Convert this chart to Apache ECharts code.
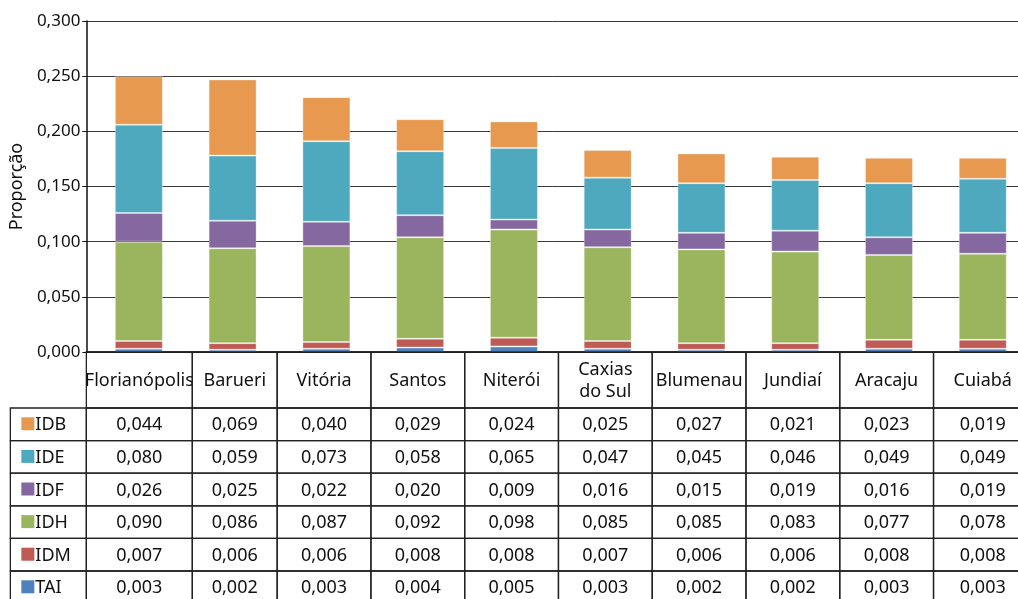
<!DOCTYPE html>
<html>
<head>
<meta charset="utf-8">
<script src="https://cdn.jsdelivr.net/npm/echarts@6/dist/echarts.min.js"></script>
<style>
html,body{margin:0;padding:0;background:#fff;}
#chart{width:1018px;height:599px;}
</style>
</head>
<body>
<div id="chart"></div>
<script>
const categories = ['Florianópolis','Barueri','Vitória','Santos','Niterói','Caxias\ndo Sul','Blumenau','Jundiaí','Aracaju','Cuiabá'];
const IDB = [0.044,0.069,0.040,0.029,0.024,0.025,0.027,0.021,0.023,0.019];
const IDE = [0.080,0.059,0.073,0.058,0.065,0.047,0.045,0.046,0.049,0.049];
const IDF = [0.026,0.025,0.022,0.020,0.009,0.016,0.015,0.019,0.016,0.019];
const IDH = [0.090,0.086,0.087,0.092,0.098,0.085,0.085,0.083,0.077,0.078];
const IDM = [0.007,0.006,0.006,0.008,0.008,0.007,0.006,0.006,0.008,0.008];
const TAI = [0.003,0.002,0.003,0.004,0.005,0.003,0.002,0.002,0.003,0.003];
const yAxisName = 'Proporção';

// table rows, top to bottom
const tableRows = [
  {name:'IDB', values:IDB, color:'#E6994F'},
  {name:'IDE', values:IDE, color:'#4EA8BE'},
  {name:'IDF', values:IDF, color:'#8568A0'},
  {name:'IDH', values:IDH, color:'#9BB55E'},
  {name:'IDM', values:IDM, color:'#BE5B55'},
  {name:'TAI', values:TAI, color:'#4F81BD'}
];
// stacking order, bottom to top
const stackOrder = tableRows.slice().reverse();

const FONT = '"Noto Sans", sans-serif';
const fmt = v => v.toFixed(3).replace('.', ',');

const chart = echarts.init(document.getElementById('chart'), null, {renderer:'canvas'});

// value first so that the stacked dimension is the y value; category position in dim 1
const barSeries = stackOrder.map(s => ({
  name: s.name,
  type: 'bar',
  stack: 'total',
  barWidth: 48,
  encode: {x: 1, y: 0},
  data: s.values.map((v, i) => [v, i]),
  itemStyle: {color: s.color, borderColor: 'rgba(255,255,255,0.35)', borderWidth: 1},
  emphasis: {disabled: true}
}));

// table cells: [colIndex, 0, rowIndex]; col -1 = legend column, row -1 = header
const cellData = [];
for (let r = -1; r < tableRows.length; r++) {
  for (let c = -1; c < categories.length; c++) {
    if (r === -1 && c === -1) continue;
    cellData.push([c, 0, r]);
  }
}

const HEADER_H = 56;
const ROW_H = 32.6;
const LEGEND_W = 76;
const TFS = 18;

// x position (in axis units) of the boundary between column k-1 and column k
function boundary(k) {
  return k === 1 ? 0.57 : k - 0.525;
}

function renderCell(params, api) {
  const c = api.value(0);
  const r = api.value(2);
  const cs = params.coordSys;
  const bottom = cs.y + cs.height;
  let x0, x1;
  if (c === -1) {
    x0 = cs.x - LEGEND_W; x1 = cs.x;
  } else {
    x0 = c === 0 ? cs.x : api.coord([boundary(c), 0])[0];
    x1 = c === categories.length - 1 ? cs.x + cs.width + 20 : api.coord([boundary(c + 1), 0])[0];
  }
  let y0, y1;
  if (r === -1) { y0 = bottom; y1 = bottom + HEADER_H; }
  else { y0 = bottom + HEADER_H + r * ROW_H; y1 = y0 + ROW_H; }
  const children = [{
    type: 'rect',
    shape: {x: x0, y: y0, width: x1 - x0, height: y1 - y0},
    style: {fill: 'none', stroke: '#222', lineWidth: 1.3}
  }];
  const cx = (c === categories.length - 1) ? api.coord([c, 0])[0] : (x0 + x1) / 2;
  const cy = (y0 + y1) / 2;
  if (r === -1) {
    children.push({type:'text', style:{text: categories[c], x: cx, y: cy + 1, align:'center', verticalAlign:'middle', fontSize:TFS, fontFamily:FONT, fill:'#111', lineHeight:22}});
  } else if (c === -1) {
    const row = tableRows[r];
    children.push({type:'rect', shape:{x: x0 + 11, y: cy - 7, width: 13, height: 13}, style:{fill: row.color}});
    children.push({type:'text', style:{text: row.name, x: x0 + 25, y: cy + 1, align:'left', verticalAlign:'middle', fontSize:TFS, fontFamily:FONT, fill:'#111'}});
  } else {
    children.push({type:'text', style:{text: fmt(tableRows[r].values[c]), x: cx, y: cy + 1, align:'center', verticalAlign:'middle', fontSize:TFS, fontFamily:FONT, fill:'#111'}});
  }
  return {type:'group', children};
}

const option = {
  animation: false,
  backgroundColor: '#fff',
  grid: {left: 86, right: 0, top: 21, bottom: 247, containLabel: false},
  xAxis: {
    type: 'value', min: -0.56, max: 9.376,
    axisLine: {show: true, onZero: false, lineStyle: {color: '#111', width: 1.5}},
    axisTick: {show: false}, axisLabel: {show: false}, splitLine: {show: false}
  },
  yAxis: {
    type: 'value', min: 0, max: 0.3, interval: 0.05,
    name: yAxisName, nameLocation: 'middle', nameGap: 60,
    nameTextStyle: {fontSize: 18, fontFamily: FONT, color: '#111'},
    axisLine: {show: true, onZero: false, lineStyle: {color: '#111', width: 1.5}},
    axisTick: {show: true, length: 4, lineStyle: {color: '#111'}},
    axisLabel: {formatter: v => fmt(v), fontSize: 17, fontFamily: FONT, color: '#111', margin: 6},
    splitLine: {show: true, lineStyle: {color: '#3a3a3a', width: 1}}
  },
  series: barSeries.concat([{
    type: 'custom',
    coordinateSystem: 'cartesian2d',
    clip: false,
    silent: true,
    encode: {x: 0, y: 1},
    data: cellData,
    renderItem: renderCell,
    z: 10
  }])
};
chart.setOption(option);
</script>
</body>
</html>
